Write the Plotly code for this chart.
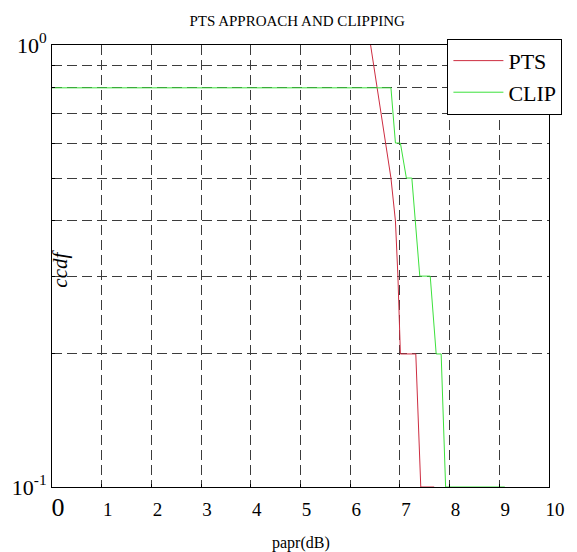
import plotly.graph_objects as go

# ---- data ----
pts_x = [6.41, 6.82, 6.91, 6.96, 7.01, 7.32, 7.42, 7.69]
pts_y = [1.0, 0.5, 0.4, 0.3, 0.2, 0.2, 0.1, 0.1]

clip_x = [0, 6.82, 6.91, 7.01, 7.13, 7.24, 7.40, 7.61, 7.73, 7.83, 7.92, 9.11]
clip_y = [0.8, 0.8, 0.6, 0.6, 0.5, 0.5, 0.3, 0.3, 0.2, 0.2, 0.1, 0.1]

x_ticks = [0, 1, 2, 3, 4, 5, 6, 7, 8, 9, 10]
x_ticklabels = ["<span style='font-size:26px'>0</span>", "1", "2", "3", "4", "5", "6", "7", "8", "9", "10"]
y_ticks = [0.1, 0.2, 0.3, 0.4, 0.5, 0.6, 0.7, 0.8, 0.9, 1.0]
y_ticklabels = ["10<sup>-1</sup>", "", "", "", "", "", "", "", "", "10<sup>0</sup>"]

FONT = "Liberation Serif, Times New Roman, serif"

fig = go.Figure()
fig.add_trace(go.Scatter(x=pts_x, y=pts_y, mode="lines", name="PTS",
                         line=dict(color="rgb(205,45,65)", width=1)))
fig.add_trace(go.Scatter(x=clip_x, y=clip_y, mode="lines", name="CLIP",
                         line=dict(color="rgb(60,225,60)", width=1)))

grid = dict(showgrid=True, gridcolor="rgb(60,60,60)", gridwidth=1, griddash="10px,5px")

fig.update_xaxes(range=[0, 10], tickvals=x_ticks, ticktext=x_ticklabels,
                 showline=True, linecolor="black", linewidth=1, mirror=True,
                 ticks="inside", ticklen=3, tickcolor="black",
                 ticklabelshift=6, ticklabelstandoff=5,
                 tickfont=dict(family=FONT, size=19, color="black"),
                 zeroline=False, **grid)
fig.update_yaxes(type="log", range=[-1, 0], tickvals=y_ticks, ticktext=y_ticklabels,
                 showline=True, linecolor="black", linewidth=1, mirror=True,
                 ticks="inside", ticklen=3, tickcolor="black",
                 tickfont=dict(family=FONT, size=22, color="black"),
                 zeroline=False, **grid)

fig.add_annotation(text="<i>ccdf</i>", xref="paper", yref="paper", x=0.017, y=0.495,
                   xanchor="center", yanchor="middle",
                   textangle=-90, showarrow=False,
                   font=dict(family=FONT, size=21, color="black"))
fig.add_annotation(text="papr(dB)", xref="paper", yref="paper", x=0.5, y=-0.127,
                   xanchor="center", yanchor="middle", showarrow=False,
                   font=dict(family=FONT, size=16, color="black"))

fig.update_layout(
    width=577, height=552,
    margin=dict(l=45, r=17, t=45, b=65),
    paper_bgcolor="white", plot_bgcolor="white",
    title=dict(text="PTS APPROACH AND CLIPPING", x=0.515, xanchor="center",
               y=1 - 21 / 552, yanchor="middle",
               font=dict(family=FONT, size=15, color="black")),
    showlegend=True,
    legend=dict(x=1.027, xanchor="right", y=1.014, yanchor="top",
                bgcolor="white", bordercolor="black", borderwidth=1,
                itemwidth=50, tracegroupgap=4,
                font=dict(family=FONT, size=22, color="black")),
)

fig.write_html("out.html", config={"displayModeBar": False},
               post_script="document.body.style.margin='0px';document.body.style.overflow='hidden';")
